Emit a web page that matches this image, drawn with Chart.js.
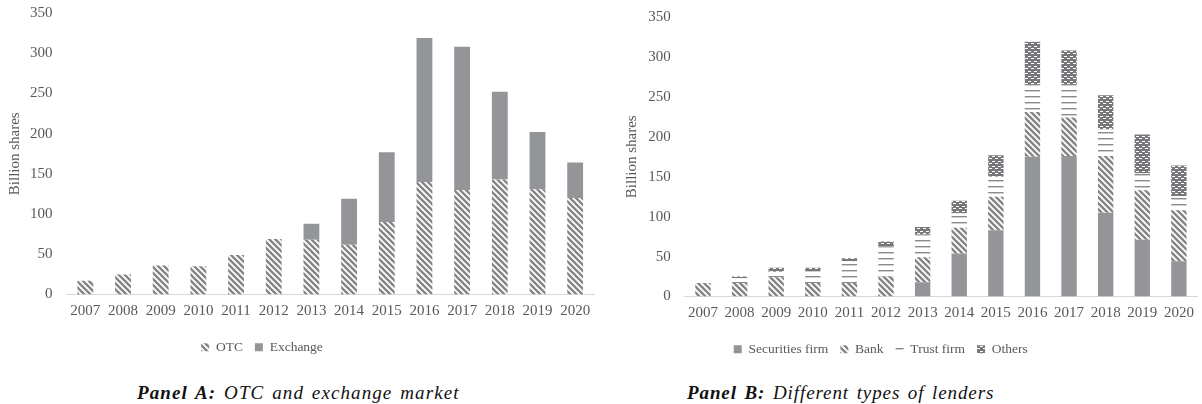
<!DOCTYPE html>
<html>
<head>
<meta charset="utf-8">
<script src="https://cdn.jsdelivr.net/npm/chart.js@4.4.1/dist/chart.umd.min.js"></script>
<style>
  body { margin: 0; background: #fff; }
  #wrap { position: relative; width: 1202px; height: 404px; }
  .panel { position: absolute; top: 0; width: 601px; }
  .caption { position: absolute; top: 382px; font-family: "Liberation Serif", serif; font-style: italic;
             font-size: 19px; color: #111; white-space: nowrap; letter-spacing: 1.1px; word-spacing: 2px; }
</style>
</head>
<body>
<div id="wrap">
  <div class="panel" style="left:0"><canvas id="panelA" width="601" height="364"></canvas></div>
  <div class="panel" style="left:601px"><canvas id="panelB" width="601" height="366"></canvas></div>
  <div class="caption" style="left:137px"><b>Panel A:</b> OTC and exchange market</div>
  <div class="caption" style="left:687px; letter-spacing:0.9px"><b>Panel B:</b> Different types of lenders</div>
</div>
<script>
// data (billion shares)
const years = ['2007', '2008', '2009', '2010', '2011', '2012', '2013', '2014', '2015', '2016', '2017', '2018', '2019', '2020'];
const otc = [17, 25, 36, 35, 49, 69, 68, 62, 90, 140, 130, 143, 131, 120];
const exchange = [0, 0, 0, 0, 0, 0, 20, 57, 87, 179, 178, 109, 71, 44];

const securities = [0, 0, 0, 0, 0, 0, 18, 54, 83, 175, 176, 105, 71, 44];
const bank = [17, 17, 24, 17, 17, 25, 31, 32, 42, 56, 48, 71, 62, 64];
const trust = [0, 6, 7, 15, 27, 38, 29, 18, 25, 35, 42, 33, 21, 18];
const others = [0, 2, 5, 4, 4, 6, 9, 16, 27, 53, 42, 43, 49, 38];

const yTicks = [0, 50, 100, 150, 200, 250, 300, 350];

const textGrey = '#595959';
const solidGrey = '#939598';
const lineGrey = '#d9d9d9';

function makePattern(w, h, draw) {
    const c = document.createElement('canvas');
    c.width = w; c.height = h;
    const g = c.getContext('2d');
    draw(g, w, h);
    return g.createPattern(c, 'repeat');
}

// wide downward diagonal
const diagonal = makePattern(6, 6, (g, w, h) => {
    g.fillStyle = '#fff';
    g.fillRect(0, 0, w, h);
    g.strokeStyle = '#858585';
    g.lineWidth = 2.4;
    g.beginPath();
    for (let k = -1; k <= 1; k++) {
        g.moveTo(k * w - 1, -1);
        g.lineTo(k * w + w + 1, h + 1);
    }
    g.stroke();
});

// horizontal lines
const horizontal = makePattern(4, 6, (g, w, h) => {
    g.fillStyle = '#fff';
    g.fillRect(0, 0, w, h);
    g.fillStyle = '#8a8a8a';
    g.fillRect(0, 0, w, 1.4);
});

// brick-like grid
const brick = makePattern(6, 5, (g, w, h) => {
    g.fillStyle = '#77787b';
    g.fillRect(0, 0, w, h);
    g.fillStyle = '#fff';
    g.fillRect(1, 1, 3, 1);
    g.fillRect(4, 3, 2, 1);
    g.fillRect(0, 3, 1, 1);
});

const serif = '"Liberation Serif", "Times New Roman", serif';

// nudge the legend sideways (Excel places it left of centre)
const legendShift = {
    id: 'legendShift',
    afterLayout(chart, args, opts) {
        if (chart.legend && opts.dx) {
            chart.legend.left += opts.dx;
            chart.legend.right += opts.dx;
        }
    }
};

function panelOptions(p) {
    return {
        responsive: false,
        animation: false,
        layout: { padding: { left: p.left, right: p.right, top: 0, bottom: 0 } },
        plugins: {
            legendShift: { dx: p.legendDx },
            legend: {
                position: 'bottom',
                labels: {
                    boxWidth: 8,
                    boxHeight: 8,
                    padding: 12,
                    color: textGrey,
                    font: { family: serif, size: 13.5 }
                }
            },
            tooltip: { enabled: false }
        },
        scales: {
            x: {
                stacked: true,
                grid: { display: false, drawTicks: false },
                border: { color: lineGrey, width: 1 },
                ticks: { color: textGrey, font: { family: serif, size: 15 }, padding: 8, maxRotation: 0 }
            },
            y: {
                stacked: true,
                min: 0,
                max: 350,
                afterBuildTicks: axis => { axis.ticks = yTicks.map(v => ({ value: v })); },
                afterFit: axis => {
                    axis.paddingTop = p.top;
                    axis.paddingBottom = 8;
                    axis.width = p.axisWidth;
                },
                grid: { display: false, drawTicks: false },
                border: { display: false },
                title: {
                    display: true,
                    text: 'Billion shares',
                    color: textGrey,
                    font: { family: serif, size: 15 },
                    padding: { top: 0, bottom: 0 }
                },
                ticks: { color: textGrey, font: { family: serif, size: 15 }, padding: 14 }
            }
        }
    };
}

const barCommon = { barPercentage: 0.42, categoryPercentage: 1.0, borderWidth: 0 };

new Chart(document.getElementById('panelA').getContext('2d'), {
    type: 'bar',
    data: {
        labels: years,
        datasets: [
            { label: 'OTC', data: otc, backgroundColor: diagonal, ...barCommon },
            { label: 'Exchange', data: exchange, backgroundColor: solidGrey, ...barCommon }
        ]
    },
    options: panelOptions({ left: 6, right: 7, top: 13, axisWidth: 60.5, legendDx: -38 }),
    plugins: [legendShift]
});

new Chart(document.getElementById('panelB').getContext('2d'), {
    type: 'bar',
    data: {
        labels: years,
        datasets: [
            { label: 'Securities firm', data: securities, backgroundColor: solidGrey, ...barCommon },
            { label: 'Bank', data: bank, backgroundColor: diagonal, ...barCommon },
            { label: 'Trust firm', data: trust, backgroundColor: horizontal, ...barCommon },
            { label: 'Others', data: others, backgroundColor: brick, ...barCommon }
        ]
    },
    options: panelOptions({ left: 22, right: 3.5, top: 17, axisWidth: 61.7, legendDx: -30 }),
    plugins: [legendShift]
});
</script>
</body>
</html>
